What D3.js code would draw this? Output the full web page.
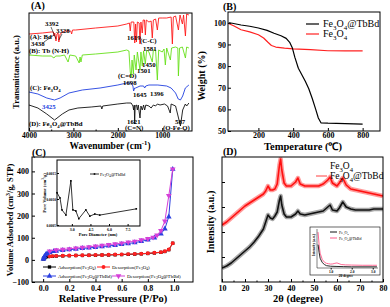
<!DOCTYPE html>
<html>
<head>
<meta charset="utf-8">
<script src="https://cdn.jsdelivr.net/npm/d3@7"></script>
<style>body{margin:0;background:#fff}</style>
</head>
<body>
<script>
var width = 390, height = 307;
var F = "'Liberation Serif','Times New Roman',serif";

// ---- (A) FTIR, [wavenumber, transmittance a.u.]
var irBd = [[4000,97],[3700,98],[3500,99],[3450,99],[3438,95],[3420,98],[3392,90],[3370,97],[3345,98],[3328,89],[3300,97],[3200,100],
  [3060,100],[3040,97],[3020,101],[2950,101],[2500,103],[2000,105],[1800,107],[1740,108],[1720,100],[1700,109],[1640,109],[1619,88],
  [1600,107],[1581,89],[1560,109],[1520,108],[1501,87],[1480,109],[1450,98],[1430,111],[1400,111],[1380,96],[1360,111],[1300,109],
  [1250,110],[1224,93],[1200,111],[1150,112],[1110,101],[1080,113],[1000,113],[900,113],[800,114],[772,87],[750,114],[700,115],
  [636,101],[600,116],[546,107],[520,116],[478,95],[450,117],[400,116]];
var irTb = [[4000,76],[3700,75],[3500,75],[3438,73],[3400,75],[3300,75],[3200,76],[3120,69],[3080,76],[2950,75],[2870,68],[2850,74],
  [2830,69],[2800,76],[2500,77],[2000,79],[1800,81],[1750,80],[1720,59],[1698,54],[1680,71],[1650,57],[1630,76],[1590,61],[1560,79],
  [1501,61],[1480,79],[1450,65],[1420,80],[1381,67],[1350,81],[1300,79],[1224,69],[1200,81],[1150,81],[1110,51],[1080,81],[1000,79],
  [960,82],[930,66],[900,83],[817,71],[790,83],[700,84],[650,83],[636,55],[610,83],[546,84],[478,73],[450,84],[400,83]];
var irFe = [[4000,39],[3800,37],[3600,33],[3425,31],[3300,33],[3100,38],[2800,41],[2400,43],[2000,46],[1800,48],[1700,48],[1660,45],
  [1645,40],[1620,43],[1600,43],[1500,45],[1420,45],[1396,43],[1370,45],[1300,46],[1100,46],[900,45],[800,43],[700,38],[640,32],
  [590,31],[540,35],[480,43],[400,46]];
var irFeTb = [[4000,26],[3800,23],[3600,17],[3425,11],[3250,17],[3100,21],[2900,23],[2600,24],[2380,25],[2360,22],[2340,25],[2000,27],
  [1800,28],[1700,28],[1660,25],[1645,21],[1630,26],[1621,7],[1610,25],[1580,26],[1560,21],[1540,26],[1501,13],[1480,25],[1450,21],
  [1420,26],[1396,21],[1370,26],[1300,25],[1250,23],[1200,26],[1150,25],[1110,27],[1050,26],[950,27],[880,25],[820,18],[800,27],
  [700,25],[650,16],[590,5],[540,21],[480,27],[450,25],[400,28]];
var irTicks = [4000, 3000, 2000, 1000];

// ---- (B) TGA, [temperature, weight %]
var tgaFeTb = [[30,100],[50,99.8],[100,99],[150,98.4],[200,97.6],[250,96.5],[290,95.2],[330,94],[360,92.8],[380,91],[395,88.5],
  [410,84],[430,79],[450,76],[470,73],[490,69.5],[510,65],[530,60],[545,56],[560,53.8],[600,53.6],[700,53.4],[800,53.2]];
var tgaFe = [[25,99.8],[60,98.5],[100,96.8],[150,95.8],[200,94.5],[230,93],[255,91],[275,89.5],[300,88.8],[350,88.3],[400,88],
  [500,87.6],[600,87.1],[700,87],[800,87]];
var tgaTicksX = [200, 400, 600, 800];
var tgaTicksY = [50, 60, 70, 80, 90, 100];

// ---- (C) N2 isotherms, [P/P0, volume]
var adsFe = [[0.002,4],[0.005,7],[0.01,10],[0.02,13],[0.04,15],[0.07,16],[0.1,17],[0.15,18],[0.2,19],[0.25,20],[0.3,20],[0.35,21],
  [0.4,21],[0.45,22],[0.5,22],[0.55,23],[0.6,24],[0.65,25],[0.7,26],[0.75,27],[0.8,29],[0.85,31],[0.9,34],[0.93,38],[0.96,46],[0.99,75]];
var desFe = [[0.99,75],[0.96,47],[0.93,39],[0.9,35],[0.85,32],[0.8,30],[0.75,28],[0.7,27],[0.65,26],[0.6,25],[0.55,24],[0.5,23],
  [0.45,22],[0.4,22],[0.35,21],[0.3,21],[0.25,20],[0.2,20],[0.15,19],[0.1,18],[0.07,17],[0.05,16]];
var adsFeTb = [[0.002,3],[0.005,8],[0.01,16],[0.02,24],[0.03,29],[0.05,34],[0.08,38],[0.1,40],[0.15,43],[0.2,46],[0.25,49],[0.3,52],
  [0.35,54],[0.4,57],[0.45,60],[0.5,63],[0.55,66],[0.6,70],[0.65,74],[0.7,78],[0.75,84],[0.8,90],[0.85,100],[0.9,118],[0.93,140],
  [0.96,195],[0.99,410]];
var desFeTb = [[0.99,410],[0.96,290],[0.93,175],[0.9,132],[0.87,112],[0.84,102],[0.8,96],[0.75,90],[0.7,84],[0.65,80],[0.6,76],
  [0.55,72],[0.5,69],[0.45,65],[0.4,62],[0.35,59],[0.3,56],[0.25,53],[0.2,50],[0.15,47],[0.1,45],[0.05,40]];
var isoTicksX = [0, 0.2, 0.4, 0.6, 0.8, 1.0];
var isoTicksY = [-100, 0, 100, 200, 300, 400];
// pore size distribution inset, [diameter nm, cm3/g]
var pore = [[1.8,0.00112],[2.04,0.00102],[2.2,0.00079],[2.52,0.00069],[2.92,0.00135],[3.08,0.00079],[3.32,0.00077],[3.56,0.00062],
  [4.13,0.00079],[4.45,0.00067],[4.85,0.00071],[5.25,0.00069],[8.2,0.00081]];
var poreTicksX = [3.0, 4.5, 6.0, 7.5];
var poreTicksY = [0.0005, 0.0010, 0.0015];

// ---- (D) XRD, [2theta, intensity a.u.]
var xrdFeTb = [[10,57],[12,60],[14,64],[16,68],[18,72],[20,76],[22,79],[24,82],[26,85],[28,88],[29,91],[30,96],[31,92],[32,92],[33,93],
  [34,98],[35,117],[35.5,123],[36,112],[37,99],[38,96],[40,96],[42,100],[43,104],[44,98],[46,96],[48,96],[50,96],[52,96],[54,98],
  [56,102],[57,105],[58,99],[60,96],[61,99],[62.5,104],[64,97],[66,93],[68,92],[70,91],[72,90],[74,89],[76,88],[78,87],[80,86]];
var xrdFe = [[10,14],[12,16],[14,19],[16,23],[18,27],[20,31],[22,35],[24,40],[26,46],[28,53],[29,60],[30,67],[31,64],[32,63],[33,66],
  [34,70],[35,82],[35.5,86],[36,77],[37,68],[38,65],[40,65],[42,68],[43,71],[44,68],[46,67],[48,68],[50,69],[52,70],[54,71],[56,75],
  [57,77],[58,72],[60,71],[61,74],[62.5,80],[64,75],[66,73],[68,72],[70,72],[72,72],[74,72],[76,73],[78,73],[80,73]];
var xrdTicks = [10, 20, 30, 40, 50, 60, 70, 80];
// small-angle inset
var saxFe = [[0.4,60],[0.45,40],[0.5,25],[0.6,14],[0.7,9],[0.8,6],[1,4.5],[1.3,4],[1.6,3.5],[2,3],[3.2,3]];
var saxFeTb = [[0.4,92],[0.45,60],[0.5,38],[0.6,22],[0.7,15],[0.8,12],[0.9,11],[1,10],[1.1,10.5],[1.2,12],[1.3,13],[1.4,11],[1.5,9],
  [1.7,8],[2,7.5],[2.5,7],[3,7],[3.2,7]];
var saxTicks = [1, 2, 3];

var svg = d3.select("body").append("svg").attr("width", width).attr("height", height)
  .attr("font-family", F);

// text with _x / ^{..} sub/superscripts
function rich(t, str) {
  var re = /([_^])(\{[^}]*\}|.)/g, last = 0, m, shift = 0;
  var fs = parseFloat(t.attr("font-size"));
  while ((m = re.exec(str))) {
    if (m.index > last) { t.append("tspan").attr("dy", -shift).text(str.slice(last, m.index)); shift = 0; }
    var d = m[1] == "_" ? fs * 0.3 : -fs * 0.4;
    t.append("tspan").attr("dy", d - shift).attr("font-size", fs * 0.7).text(m[2].replace(/[{}]/g, ""));
    shift = d;
    last = re.lastIndex;
  }
  if (last < str.length) t.append("tspan").attr("dy", -shift).text(str.slice(last));
  return t;
}
function label(g, str, x, y, size, opts) {
  opts = opts || {};
  var t = g.append("text").attr("x", x).attr("y", y).attr("font-size", size)
    .attr("font-weight", opts.bold === false ? "normal" : "bold")
    .attr("text-anchor", opts.anchor || "start").attr("fill", opts.color || "#000");
  if (opts.rotate) t.attr("transform", "rotate(-90," + x + "," + y + ")");
  return rich(t, str);
}
function frame(g, x, y) {
  g.append("rect").attr("x", x.range()[0]).attr("y", y.range()[1])
    .attr("width", x.range()[1] - x.range()[0]).attr("height", y.range()[0] - y.range()[1])
    .attr("fill", "none").attr("stroke", "#000").attr("stroke-width", 1);
}
function axis(g, gen, tr, size) {
  var a = g.append("g").attr("transform", tr).call(gen);
  a.select(".domain").remove();
  a.selectAll("line").attr("stroke", "#000");
  a.selectAll("text").attr("font-family", F).attr("font-weight", "bold").attr("font-size", size || 7.5).attr("fill", "#000");
  return a;
}
function path(g, data, x, y, color, w) {
  return g.append("path").datum(data).attr("fill", "none").attr("stroke", color).attr("stroke-width", w || 1)
    .attr("stroke-linejoin", "round")
    .attr("d", d3.line().x(function (d) { return x(d[0]); }).y(function (d) { return y(d[1]); }));
}

// ================= (A)
var gA = svg.append("g");
var xA = d3.scaleLinear().domain([4000, 330]).range([29, 192]);
var yA = d3.scaleLinear().domain([0, 118]).range([131, 13]);
path(gA, irBd, xA, yA, "#ff1a1a", 0.9);
path(gA, irTb, xA, yA, "#66e01a", 0.9);
path(gA, irFe, xA, yA, "#2040e0", 0.9);
path(gA, irFeTb, xA, yA, "#111", 0.9);
frame(gA, xA, yA);
axis(gA, d3.axisBottom(xA).tickValues(irTicks).tickSize(-3).tickPadding(2).tickFormat(d3.format("d")), "translate(0,131)", 7.5);
axis(gA, d3.axisBottom(xA).tickValues([3500, 2500, 1500, 500]).tickSize(-1.5).tickFormat(""), "translate(0,131)");
label(gA, "(A)", 31, 9, 10);
label(gA, "Transmittance (a.u.)", 19, 72, 8.5, {rotate: true, anchor: "middle"});
label(gA, "Wavenumber (cm^{-1})", 110, 149, 9.5, {anchor: "middle"});
var annA = [
  ["(A): Bd", 30, 39, "#000"], ["3392", 45, 26, "#000"], ["3328", 56, 33, "#000"], ["3438", 31, 46, "#000"],
  ["(B): Tb (N-H)", 29, 53, "#000"], ["1619", 127, 40, "#000"], ["(C-C)", 140, 43, "#000"], ["1581", 143, 50.5, "#000"],
  ["1450", 142, 67, "#000"], ["1501", 137, 73, "#000"], ["(C=O)", 118, 78, "#000"], ["1698", 123, 84.5, "#000"],
  ["(C): Fe_3O_4", 30, 90, "#000"], ["1645", 133, 97, "#000"], ["1396", 150, 96, "#000"], ["3425", 42, 109, "#2040e0"],
  ["(D): Fe_3O_4@TbBd", 29, 126, "#000"], ["1621", 127, 124, "#000"], ["(C=N)", 125, 130, "#000"],
  ["587", 175, 124, "#000"], ["(O-Fe-O)", 163, 130, "#000"]];
annA.forEach(function (a) { label(gA, a[0], a[1], a[2], 6.8, {color: a[3]}); });
// pointer arrows
[[3392, 51, 27, 91], [3328, 62, 34, 90], [3438, 44, 42, 95]].forEach(function (p) {
  gA.append("line").attr("x1", p[1]).attr("y1", p[2]).attr("x2", xA(p[0])).attr("y2", yA(p[3]) - 1)
    .attr("stroke", "#000").attr("stroke-width", 0.6);
});

// ================= (B)
var gB = svg.append("g");
var xB = d3.scaleLinear().domain([25, 900]).range([228, 380]);
var yB = d3.scaleLinear().domain([50, 105]).range([131, 12]);
path(gB, tgaFe, xB, yB, "#ff2020", 1.2);
path(gB, tgaFeTb, xB, yB, "#000", 1.2);
frame(gB, xB, yB);
axis(gB, d3.axisBottom(xB).tickValues(tgaTicksX).tickSize(-3).tickPadding(1.5), "translate(0,131)", 8);
axis(gB, d3.axisLeft(yB).tickValues(tgaTicksY).tickSize(-3).tickPadding(2), "translate(228,0)", 8);
label(gB, "(B)", 223, 10, 10);
label(gB, "Weight (%)", 205, 76, 10, {rotate: true, anchor: "middle"});
label(gB, "Temperature (\u2103)", 303, 150, 10.5, {anchor: "middle"});
var legB = [["Fe_3O_4@TbBd", "#000"], ["Fe_3O_4", "#ff2020"]];
legB.forEach(function (l, i) {
  gB.append("line").attr("x1", 306).attr("x2", 319).attr("y1", 24 + i * 10).attr("y2", 24 + i * 10)
    .attr("stroke", l[1]).attr("stroke-width", 1.2);
  label(gB, l[0], 323, 27 + i * 10, 10, {bold: false});
});

// ================= (C)
var gC = svg.append("g");
var xC = d3.scaleLinear().domain([-0.085, 1.145]).range([32, 193]);
var yC = d3.scaleLinear().domain([-100, 465]).range([282, 157]);
var seriesC = [
  {data: adsFe, color: "#000", sym: d3.symbolSquare, rot: 0, size: 11, name: "Adsorption(Fe_3O_4)"},
  {data: desFe, color: "#ff2020", sym: d3.symbolCircle, rot: 0, size: 12, name: "Desorption(Fe_3O_4)"},
  {data: adsFeTb, color: "#2a3fe0", sym: d3.symbolTriangle, rot: 0, size: 14, name: "Adsorption(Fe_3O_4@TbBd)"},
  {data: desFeTb, color: "#d540d8", sym: d3.symbolTriangle, rot: 180, size: 14, name: "Desorption(Fe_3O_4@TbBd)"}];
seriesC.forEach(function (s) {
  path(gC, s.data, xC, yC, s.color, 1);
  gC.selectAll(null).data(s.data).enter().append("path")
    .attr("d", d3.symbol().type(s.sym).size(s.size))
    .attr("transform", function (d) { return "translate(" + xC(d[0]) + "," + yC(d[1]) + ") rotate(" + s.rot + ")"; })
    .attr("fill", s.color);
});
frame(gC, xC, yC);
axis(gC, d3.axisBottom(xC).tickValues(isoTicksX).tickSize(-3).tickPadding(3).tickFormat(d3.format(".1f")), "translate(0,282)", 8);
axis(gC, d3.axisLeft(yC).tickValues(isoTicksY).tickSize(-3).tickPadding(3), "translate(32,0)", 8);
label(gC, "(C)", 32, 156, 10);
label(gC, "Volume Adsorbed (cm^3/g, STP)", 13, 220, 8.5, {rotate: true, anchor: "middle"});
label(gC, "Relative Pressure (P/Po)", 113, 302, 10.5, {anchor: "middle"});
var legPos = [[43, 267], [97, 267], [43, 276], [112, 276]];
seriesC.forEach(function (s, i) {
  var p = legPos[i];
  gC.append("line").attr("x1", p[0]).attr("x2", p[0] + 13).attr("y1", p[1]).attr("y2", p[1]).attr("stroke", s.color);
  gC.append("path").attr("d", d3.symbol().type(s.sym).size(s.size))
    .attr("transform", "translate(" + (p[0] + 6.5) + "," + p[1] + ") rotate(" + s.rot + ")").attr("fill", s.color);
  label(gC, s.name, p[0] + 15, p[1] + 1.8, 5, {bold: false});
});
// inset: pore size distribution
var gCi = svg.append("g");
var xCi = d3.scaleLinear().domain([1.8, 8.5]).range([57, 140]);
var yCi = d3.scaleLinear().domain([0.00048, 0.00175]).range([226, 160]);
gCi.append("rect").attr("x", 57).attr("y", 160).attr("width", 83).attr("height", 66).attr("fill", "#fff");
path(gCi, pore, xCi, yCi, "#000", 0.8);
gCi.selectAll(null).data(pore).enter().append("rect")
  .attr("x", function (d) { return xCi(d[0]) - 0.8; }).attr("y", function (d) { return yCi(d[1]) - 0.8; })
  .attr("width", 1.6).attr("height", 1.6).attr("fill", "#000");
frame(gCi, xCi, yCi);
axis(gCi, d3.axisBottom(xCi).tickValues(poreTicksX).tickSize(-2).tickPadding(2).tickFormat(d3.format(".1f")), "translate(0,226)", 4);
axis(gCi, d3.axisLeft(yCi).tickValues(poreTicksY).tickSize(-2).tickPadding(1).tickFormat(d3.format(".4f")), "translate(57,0)", 3.5);
label(gCi, "Pore Diameter (nm)", 98, 236, 4.5, {anchor: "middle"});
label(gCi, "Pore Volume (cm^3/g)", 46, 193, 4.5, {rotate: true, anchor: "middle"});
gCi.append("line").attr("x1", 90).attr("x2", 99).attr("y1", 174).attr("y2", 174).attr("stroke", "#000").attr("stroke-width", 0.8);
gCi.append("rect").attr("x", 93.7).attr("y", 173.2).attr("width", 1.6).attr("height", 1.6).attr("fill", "#000");
label(gCi, "Fe_3O_4@TbBd", 100, 175.5, 4.5, {bold: false});

// ================= (D)
var gD = svg.append("g");
var xD = d3.scaleLinear().domain([10, 80]).range([222, 383]);
var yD = d3.scaleLinear().domain([0, 125]).range([282, 157]);
gD.append("clipPath").attr("id", "clipD").append("rect").attr("x", 222).attr("y", 157).attr("width", 161).attr("height", 125);
var cD = gD.append("g").attr("clip-path", "url(#clipD)");
path(cD, xrdFeTb, xD, yD, "#ff9a9a", 4.5);
path(cD, xrdFe, xD, yD, "#a8a8a8", 4.5);
path(cD, xrdFeTb, xD, yD, "#ff1010", 1.6);
path(cD, xrdFe, xD, yD, "#111", 1.6);
frame(gD, xD, yD);
axis(gD, d3.axisBottom(xD).tickValues(xrdTicks).tickSize(-3).tickPadding(3), "translate(0,282)", 8);
axis(gD, d3.axisBottom(xD).tickValues(d3.range(15, 80, 10)).tickSize(-1.5).tickFormat(""), "translate(0,282)");
axis(gD, d3.axisLeft(yD).tickValues([25, 50, 75, 100]).tickSize(-3).tickFormat(""), "translate(222,0)");
label(gD, "(D)", 223, 155, 10);
label(gD, "Intensity (a.u.)", 214, 222, 10, {rotate: true, anchor: "middle"});
label(gD, "2\u03b8 (degree)", 298, 302, 10.5, {anchor: "middle"});
label(gD, "Fe_3O_4", 330, 169, 9.5, {bold: false});
gD.append("line").attr("x1", 316).attr("x2", 327).attr("y1", 176).attr("y2", 176).attr("stroke", "#ff4040").attr("stroke-width", 1);
label(gD, "Fe_3O_4@TbBd", 330, 179, 9.5, {bold: false});
// inset: small angle
var gDi = svg.append("g");
gDi.append("rect").attr("x", 310).attr("y", 227).attr("width", 70).attr("height", 48)
  .attr("fill", "#fff").attr("stroke", "#000").attr("stroke-width", 0.6);
var xDi = d3.scaleLinear().domain([0.35, 3.25]).range([317, 378]);
var yDi = d3.scaleLinear().domain([0, 100]).range([268, 229]);
path(gDi, saxFeTb, xDi, yDi, "#ff5a8a", 0.9);
path(gDi, saxFe, xDi, yDi, "#111", 0.9);
gDi.append("line").attr("x1", 317).attr("x2", 378).attr("y1", 268).attr("y2", 268).attr("stroke", "#000").attr("stroke-width", 0.5);
gDi.append("line").attr("x1", 317).attr("x2", 317).attr("y1", 229).attr("y2", 268).attr("stroke", "#000").attr("stroke-width", 0.5);
axis(gDi, d3.axisBottom(xDi).tickValues(saxTicks).tickSize(1.5).tickPadding(1), "translate(0,268)", 3.5);
label(gDi, "2\u03b8 degree", 346, 277, 3.5, {anchor: "middle"});
label(gDi, "Intensity (a.u.)", 315, 245, 3.5, {rotate: true, anchor: "middle"});
[["Fe_3O_4", "#111"], ["Fe_3O_4@TbBd", "#ff5a8a"]].forEach(function (l, i) {
  gDi.append("line").attr("x1", 330).attr("x2", 337).attr("y1", 232 + i * 6).attr("y2", 232 + i * 6).attr("stroke", l[1]);
  label(gDi, l[0], 339, 233.5 + i * 6, 4, {bold: false});
});
</script>
</body>
</html>
